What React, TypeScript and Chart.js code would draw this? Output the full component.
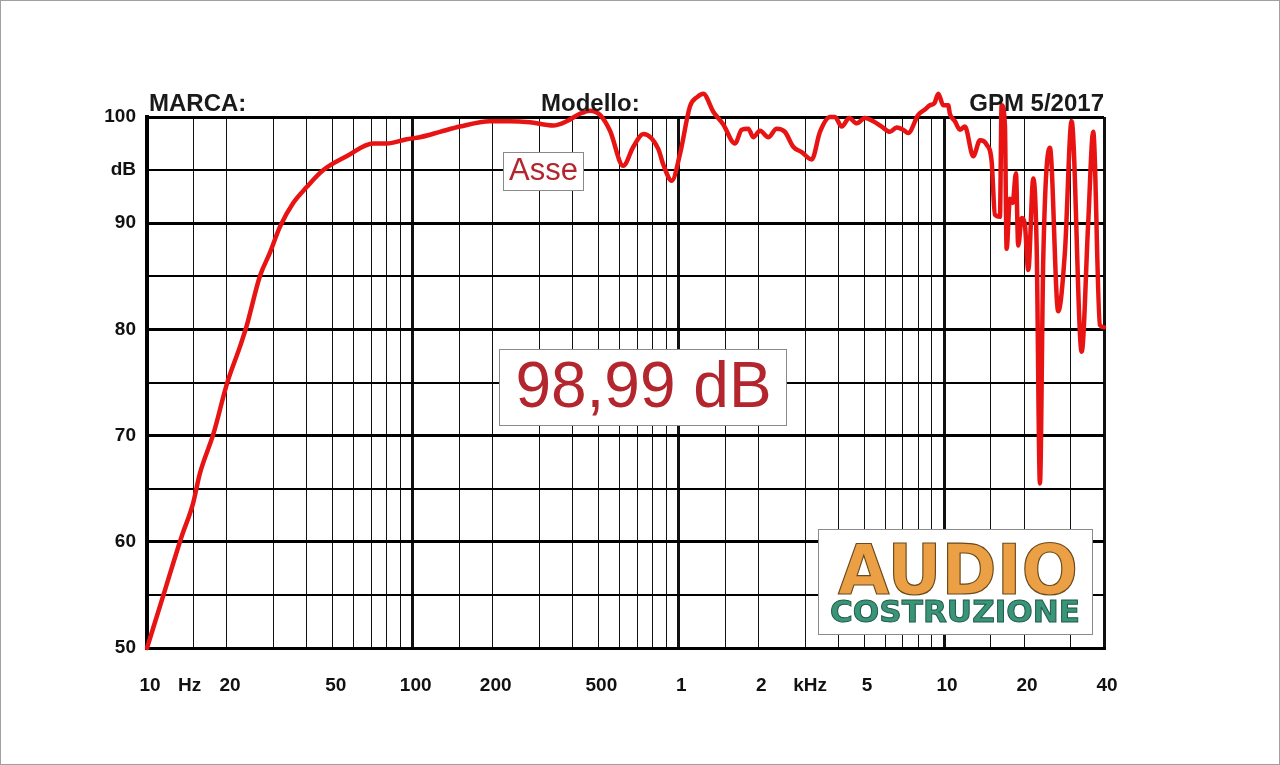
import React, { useEffect, useRef } from "react";
import { Chart, registerables } from "chart.js";
Chart.register(...registerables);

// Frequency response (Hz) and level (dB)
const FREQ_HZ = [
  10, 11.7, 13.5, 14.9, 15.8, 17.8, 20, 22.4, 23.7, 26.6, 29, 31.7, 35.5, 39.9, 46.1, 56.4, 71.1, 79.8, 94.9,
  106.5, 126.7, 150.7, 195, 232, 276, 338, 380, 426, 465, 507, 553, 620, 677, 738, 840, 878, 944,
  1014, 1106, 1180, 1241, 1353, 1476, 1633, 1731, 1833, 1914, 2029, 2180, 2344, 2519, 2706, 2912, 3176,
  3412, 3721, 3886, 4118, 4397, 4691, 5040, 5414, 5825, 6257, 6630, 7022, 7333, 7996, 8475, 8850, 9200,
  9511, 9931, 10370, 10520, 10990, 11480, 11980, 12880, 13650, 14460, 15110, 15540, 16230, 16470, 16950,
  17200, 17700, 18120, 18650, 19020, 19600, 20160, 20750, 21670, 22310, 22960, 23630, 25030, 26900,
  28510, 30210, 32960, 34890, 36430, 38610, 40000,
];
const SPL_DB = [
  50.0, 55.5, 60.5, 63.6, 66.4, 70.2, 74.9, 78.4, 80.3, 85.0, 87.2, 89.7, 91.9, 93.4, 95.0, 96.3, 97.5, 97.5, 97.9,
  98.1, 98.6, 99.1, 99.6, 99.6, 99.5, 99.2, 99.6, 100.3, 100.6, 100.2, 98.7, 95.4, 97.2, 98.4, 97.0, 95.5, 94.0,
  96.5, 101.0, 101.9, 102.2, 100.5, 99.3, 97.5, 98.8, 98.9, 98.1, 98.7, 98.1, 98.9, 98.6, 97.2, 96.7, 96.0,
  98.6, 100.0, 100.0, 99.1, 99.9, 99.4, 99.9, 99.6, 99.1, 98.6, 99.0, 98.8, 98.5, 100.2, 100.7, 101.1, 101.3,
  102.2, 101.1, 101.1, 100.3, 99.6, 98.8, 99.1, 96.3, 97.8, 97.4, 95.8, 90.8, 90.6, 101.1, 99.2,
  87.6, 92.3, 91.9, 94.7, 87.9, 90.5, 89.8, 85.6, 94.2, 87.9, 65.5, 86.7, 97.1, 81.7,
  87.3, 99.6, 77.9, 90.1, 98.6, 80.4, 80.2,
];

const X_GRID = [
  10, 15, 20, 30, 40, 50, 60, 70, 80, 90,
  100, 150, 200, 300, 400, 500, 600, 700, 800, 900,
  1000, 1500, 2000, 3000, 4000, 5000, 6000, 7000, 8000, 9000,
  10000, 15000, 20000, 30000, 40000,
];
const X_DECADES = [10, 100, 1000, 10000, 40000];
const X_LABEL_VALUES = [10, 20, 50, 100, 200, 500, 1000, 2000, 5000, 10000, 20000, 40000];
const X_LABEL_TEXTS = ["10", "20", "50", "100", "200", "500", "1", "2", "5", "10", "20", "40"];
const X_UNIT_VALUES = [14.1, 3050];
const X_UNIT_TEXTS = ["Hz", "kHz"];

const Y_GRID = [50, 55, 60, 65, 70, 75, 80, 85, 90, 95, 100];
const Y_LABEL_VALUES = [50, 60, 70, 80, 90, 95, 100];
const Y_LABEL_TEXTS = ["50", "60", "70", "80", "90", "dB", "100"];

const FONT = "'Liberation Sans', Arial, sans-serif";

export default function App() {
  const ref = useRef<HTMLCanvasElement | null>(null);

  useEffect(() => {
    if (!ref.current) return;
    const allX = [...X_GRID, ...X_UNIT_VALUES].sort((a, b) => a - b);
    const chart = new Chart(ref.current, {
      type: "line",
      data: {
        datasets: [
          {
            data: FREQ_HZ.map((f, i) => ({ x: f, y: SPL_DB[i] })),
            borderColor: "#e81414",
            borderWidth: 4.5,
            pointRadius: 0,
            cubicInterpolationMode: "monotone",
            borderJoinStyle: "round",
            borderCapStyle: "round",
            clip: false as any,
          },
        ],
      },
      options: {
        responsive: false,
        animation: false,
        devicePixelRatio: 1,
        layout: { padding: { left: 0, top: 117, right: 176, bottom: 0 } },
        plugins: { legend: { display: false }, tooltip: { enabled: false } },
        scales: {
          x: {
            type: "logarithmic",
            min: 10,
            max: 40000,
            afterBuildTicks: (s: any) => {
              s.ticks = allX.map((v) => ({ value: v }));
            },
            afterFit: (s: any) => {
              s.height = 117;
            },
            ticks: {
              autoSkip: false,
              maxRotation: 0,
              minRotation: 0,
              padding: 26,
              labelOffset: 3,
              color: "#111",
              font: { family: FONT, size: 19, weight: "bold" },
              callback: (v: any) => {
                const n = Number(v);
                const i = X_LABEL_VALUES.indexOf(n);
                if (i >= 0) return X_LABEL_TEXTS[i];
                const j = X_UNIT_VALUES.indexOf(n);
                if (j >= 0) return X_UNIT_TEXTS[j];
                return "";
              },
            },
            grid: {
              drawTicks: false,
              color: (ctx: any) =>
                X_UNIT_VALUES.includes(ctx.tick?.value) ? "rgba(0,0,0,0)" : "#111",
              lineWidth: (ctx: any) => (X_DECADES.includes(ctx.tick?.value) ? 3 : 1),
            },
            border: { display: true, color: "#000", width: 3 },
          },
          y: {
            type: "linear",
            min: 50,
            max: 100,
            afterBuildTicks: (s: any) => {
              s.ticks = Y_GRID.map((v) => ({ value: v }));
            },
            afterFit: (s: any) => {
              s.width = 147;
            },
            ticks: {
              autoSkip: false,
              padding: 11,
              color: "#111",
              font: { family: FONT, size: 19, weight: "bold" },
              callback: (v: any) => {
                const i = Y_LABEL_VALUES.indexOf(Number(v));
                return i >= 0 ? Y_LABEL_TEXTS[i] : "";
              },
            },
            grid: {
              drawTicks: false,
              color: "#000",
              lineWidth: (ctx: any) => (ctx.tick?.value % 10 === 0 ? 3 : 2),
            },
            border: { display: true, color: "#000", width: 4 },
          },
        },
      },
    });
    return () => chart.destroy();
  }, []);

  return (
    <div
      style={{
        position: "fixed",
        left: 0,
        top: 0,
        width: 1280,
        height: 765,
        background: "#fff",
        overflow: "hidden",
      }}
    >
      <canvas
        ref={ref}
        width={1280}
        height={765}
        style={{ position: "absolute", left: 0, top: 0, width: 1280, height: 765 }}
      />
      <svg
        width={1280}
        height={765}
        style={{ position: "absolute", left: 0, top: 0, pointerEvents: "none" }}
      >
        <rect x={0.5} y={0.5} width={1279} height={764} fill="none" stroke="#a0a0a0" />
        <g fontFamily={FONT} fontWeight="bold" fontSize={24} fill="#1a1a1a">
          <text x={149} y={111}>MARCA:</text>
          <text x={541} y={111}>Modello:</text>
          <text x={1104} y={111} textAnchor="end">GPM 5/2017</text>
        </g>
        <rect x={503.5} y={152.5} width={80} height={38} fill="#fff" stroke="#8a8a8a" />
        <text x={543.5} y={180} textAnchor="middle" fontFamily={FONT} fontSize={31} fill="#b3262e">
          Asse
        </text>
        <rect x={499.5} y={349.5} width={287} height={76} fill="#fff" stroke="#8a8a8a" />
        <text x={643.5} y={406.5} textAnchor="middle" fontFamily={FONT} fontSize={64} fill="#b3262e">
          98,99 dB
        </text>
        <rect x={818.5} y={529.5} width={274} height={105} fill="#fff" stroke="#8a8a8a" />
        <text
          x={838}
          y={594}
          textLength={240}
          lengthAdjust="spacingAndGlyphs"
          fontFamily="'DejaVu Sans', sans-serif"
          fontWeight="bold"
          fontSize={70}
          fill="#eca046"
          stroke="#6b4a1a"
          strokeWidth={1.2}
        >
          AUDIO
        </text>
        <text
          x={830}
          y={622}
          textLength={250}
          lengthAdjust="spacingAndGlyphs"
          fontFamily="'DejaVu Sans', sans-serif"
          fontWeight="bold"
          fontSize={31}
          fill="#3a9478"
          stroke="#1f5a48"
          strokeWidth={1}
        >
          COSTRUZIONE
        </text>
      </svg>
    </div>
  );
}
